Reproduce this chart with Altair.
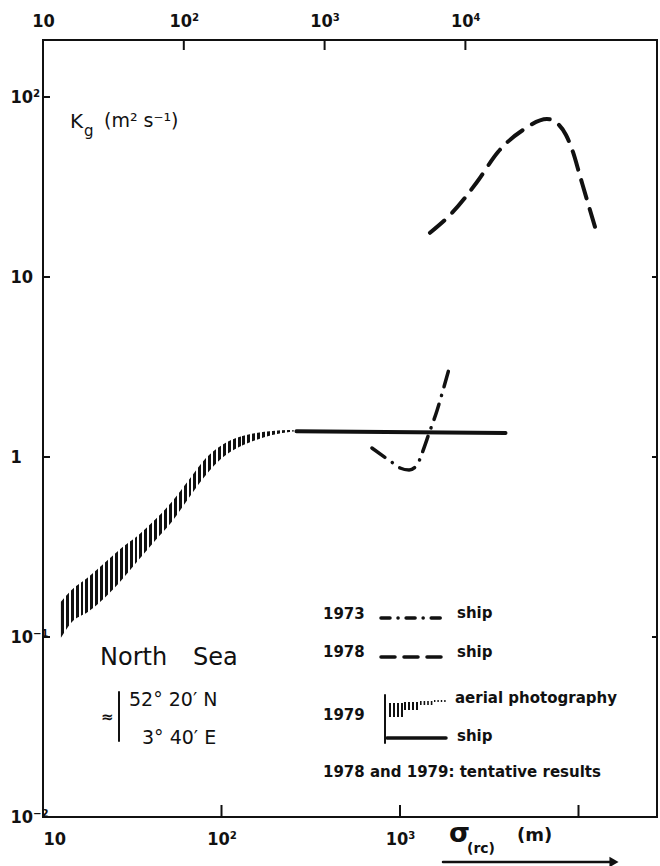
import math
import altair as alt
import pandas as pd

# ---------------- data ----------------
# 1979 aerial photography (hatched band): x, lower and upper edge
band_x = [12.6, 14.4, 17.9, 22.4, 27.5, 34.3, 42.8, 52.6, 65.6, 81.8, 100.6, 125.5, 156.4, 192.6, 240.0, 263.0]
band_hi = [0.157, 0.182, 0.215, 0.261, 0.312, 0.369, 0.452, 0.562, 0.745, 0.987, 1.166, 1.291, 1.36, 1.394, 1.413, 1.394]
band_lo = [0.099, 0.120, 0.138, 0.167, 0.207, 0.268, 0.346, 0.436, 0.592, 0.794, 0.987, 1.136, 1.243, 1.325, 1.377, 1.394]

# 1979 ship (solid)
ship79_x = [263, 3900]
ship79_y = [1.39, 1.36]

# 1973 ship (dash-dot)
ship73_x = [696, 913, 1000, 1124, 1247, 1330, 1457, 1616, 1724, 1889]
ship73_y = [1.122, 0.926, 0.869, 0.847, 0.903, 1.052, 1.36, 1.824, 2.268, 3.122]

# 1978 ship (dashed)
ship78_x = [1472, 1956, 2700, 3540, 4887, 6660, 7779, 8511, 9310, 10195, 11160, 12370]
ship78_y = [17.6, 22.7, 33.7, 49.5, 65.6, 75.5, 69.9, 61.5, 49.5, 36.4, 26.8, 19.0]

# axes
x_bottom_ticks = [10, 100, 1000, 10000]
x_bottom_labels = ["10", "10²", "10³", ""]
x_top_ticks = [10, 100, 1000, 10000]
x_top_labels = ["10", "10²", "10³", "10⁴"]
y_ticks = [0.01, 0.1, 1, 10, 100]
y_labels = ["10⁻²", "10⁻¹", "1", "10", "10²"]
y_right_ticks = [0.1, 1, 10]

# ---------------- layout ----------------
L, T = 43, 40
W, H = 614, 777
PAD_R, PAD_B = 660 - L - W, 866 - T - H
X_DOMAIN = [10, 10 ** (1 + W / 178.5)]
XT_DOMAIN = [10, 10 ** (1 + W / 140.8)]
Y_DOMAIN = [0.01, 10 ** (2 + 57 / 180)]

AX_FONT = "Liberation Sans Narrow, DejaVu Sans Condensed, DejaVu Sans"
TXT_FONT = "DejaVu Sans"
INK = "#111111"


def label_expr(vals, labels):
    expr = "''"
    for v, s in reversed(list(zip(vals, labels))):
        expr = f"abs(log(datum.value)/LN10 - ({math.log10(v)})) < 0.01 ? '{s}' : ({expr})"
    return expr


xb = alt.Scale(type="log", domain=X_DOMAIN, nice=False)
xt = alt.Scale(type="log", domain=XT_DOMAIN, nice=False)
ys = alt.Scale(type="log", domain=Y_DOMAIN, nice=False)

bottom_axis = alt.Axis(orient="bottom", values=x_bottom_ticks, labelExpr=label_expr(x_bottom_ticks, x_bottom_labels),
                       ticks=False, tickSize=0, domain=False, grid=False, labelPadding=13, labelFont=AX_FONT,
                       labelFontSize=18, labelFontWeight="bold", labelColor=INK, labelOverlap=False, title=None)
top_axis = alt.Axis(orient="top", values=x_top_ticks, labelExpr=label_expr(x_top_ticks, x_top_labels),
                    ticks=False, tickSize=0, domain=False, grid=False, labelPadding=10, labelFont=AX_FONT,
                    labelFontSize=18, labelFontWeight="bold", labelColor=INK, labelOverlap=False,
                    labelFlush=False, title=None)
y_axis = alt.Axis(orient="left", values=y_ticks, labelExpr=label_expr(y_ticks, y_labels),
                  ticks=False, tickSize=0, domain=False, grid=False, labelPadding=33, labelAlign="left",
                  labelBaseline="middle", labelFont=AX_FONT, labelFontSize=18, labelFontWeight="bold",
                  labelColor=INK, labelOverlap=False, title=None)

X = lambda f: alt.X(f, scale=xb, axis=bottom_axis, title=None)
Y = lambda f: alt.Y(f, scale=ys, axis=y_axis, title=None)

# hatch gradient (vertical stripes)
n_str = 48
duty = 0.6
stops = []
for i in range(n_str):
    a, b, c = i / n_str, (i + duty) / n_str, (i + 1) / n_str
    stops += [{"offset": a, "color": INK}, {"offset": b, "color": INK},
              {"offset": b, "color": "#ffffff"}, {"offset": c, "color": "#ffffff"}]
hatch = {"gradient": "linear", "x1": 0, "x2": 1, "y1": 0, "y2": 0, "stops": stops}

band = alt.Chart(pd.DataFrame({"x": band_x, "lo": band_lo, "hi": band_hi})).mark_area(
    color=hatch, opacity=1, interpolate="monotone").encode(x=X("x:Q"), y=Y("lo:Q"), y2="hi:Q")

s79 = alt.Chart(pd.DataFrame({"x": ship79_x, "y": ship79_y})).mark_line(
    color=INK, strokeWidth=4, strokeCap="round").encode(x=X("x:Q"), y=Y("y:Q"))

s73 = alt.Chart(pd.DataFrame({"x": ship73_x, "y": ship73_y})).mark_line(
    color=INK, strokeWidth=3.5, strokeCap="round", strokeDash=[16, 9, 0.1, 9], interpolate="monotone"
).encode(x=X("x:Q"), y=Y("y:Q"))

s78 = alt.Chart(pd.DataFrame({"x": ship78_x, "y": ship78_y})).mark_line(
    color=INK, strokeWidth=4, strokeCap="round", strokeDash=[19, 11], interpolate="monotone"
).encode(x=X("x:Q"), y=Y("y:Q"))

# inward ticks
bt = alt.Chart(pd.DataFrame({"x": x_bottom_ticks[1:]})).mark_rule(color=INK, strokeWidth=2).encode(
    x=X("x:Q"), y=alt.value(H), y2=alt.value(H - 12))
lt = alt.Chart(pd.DataFrame({"y": y_ticks[1:]})).mark_rule(color=INK, strokeWidth=2).encode(
    y=Y("y:Q"), x=alt.value(0), x2=alt.value(7))
rt = alt.Chart(pd.DataFrame({"y": y_right_ticks})).mark_rule(color=INK, strokeWidth=2).encode(
    y=Y("y:Q"), x=alt.value(W - 5), x2=alt.value(W))

dummy = pd.DataFrame({"d": [0]})


def txt(s, px, py, size, weight="normal", baseline="middle", align="left", font=TXT_FONT):
    return alt.Chart(dummy).mark_text(text=s, fontSize=size, fontWeight=weight, baseline=baseline,
                                      align=align, font=font, color=INK).encode(
        x=alt.value(px - L), y=alt.value(py - T))


def rule(x1, x2, y1, y2, width=2.0, dash=None, cap="round"):
    kw = dict(color=INK, strokeWidth=width, strokeCap=cap)
    if dash:
        kw["strokeDash"] = dash
    return alt.Chart(dummy).mark_rule(**kw).encode(
        x=alt.value(x1 - L), x2=alt.value(x2 - L), y=alt.value(y1 - T), y2=alt.value(y2 - T))


annot = [
    txt("K", 70, 122, 20),
    txt("g", 84, 131, 15),
    txt("(m² s⁻¹)", 104, 121, 19),
    txt("North", 100, 658, 24),
    txt("Sea", 193, 658, 24),
    txt("≈", 101, 717, 15, "bold"),
    rule(119, 119, 692, 741, 2),
    txt("52° 20′ N", 129, 700, 19),
    txt("3° 40′ E", 142, 738, 19),
    # legend
    txt("1973", 323, 614, 15, "bold"),
    rule(381, 446, 618, 618, 3.5, [9, 8, 0.1, 8]),
    txt("ship", 457, 613, 15, "bold"),
    txt("1978", 323, 652, 15, "bold"),
    rule(381, 446, 657, 657, 3.5, [14, 9]),
    txt("ship", 457, 652, 15, "bold"),
    txt("1979", 323, 715, 15, "bold"),
    rule(385, 385, 695, 743, 2),
    rule(389, 404, 710, 710, 14, [2, 2], "butt"),
    rule(404, 420, 706, 706, 8, [2, 2], "butt"),
    rule(420, 434, 703, 703, 4, [1.6, 2], "butt"),
    rule(434, 447, 701, 701, 2, [1.4, 2], "butt"),
    txt("aerial photography", 455, 698, 15, "bold"),
    rule(387, 446, 738, 738, 3.5),
    txt("ship", 457, 736, 15, "bold"),
    txt("1978 and 1979: tentative results", 323, 772, 15, "bold"),
    # x title
    txt("σ", 449, 842, 27, "bold", baseline="alphabetic"),
    txt("(rc)", 467, 853, 14, "bold", baseline="alphabetic"),
    txt("(m)", 517, 841, 18, "bold", baseline="alphabetic"),
    rule(443, 610, 862, 862, 2.5),
    alt.Chart(dummy).mark_point(shape="triangle-right", filled=True, color=INK, size=110, opacity=1).encode(
        x=alt.value(614 - L), y=alt.value(862 - T)),
]

main = alt.layer(band, s79, s73, s78, bt, lt, rt, *annot)

top = alt.Chart(pd.DataFrame({"x": x_top_ticks[1:]})).mark_rule(color=INK, strokeWidth=2).encode(
    x=alt.X("x:Q", scale=xt, axis=top_axis, title=None), y=alt.value(0), y2=alt.value(10))

chart = alt.layer(main, top).resolve_scale(x="independent").properties(
    width=W, height=H, autosize="none",
    padding={"left": L, "top": T, "right": PAD_R, "bottom": PAD_B},
).configure(background="white").configure_view(stroke=INK, strokeWidth=2)

chart.save("out.html", embed_options={"renderer": "svg", "actions": False})
